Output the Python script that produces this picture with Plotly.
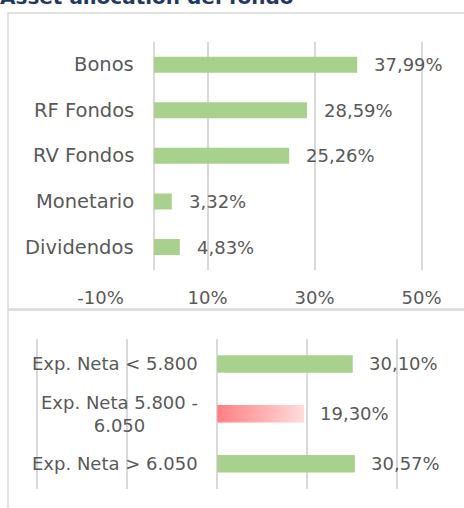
import plotly.graph_objects as go

# ---- data ----
title_text = "Asset allocation del fondo"

top_categories = ["Bonos", "RF Fondos", "RV Fondos", "Monetario", "Dividendos"]
top_values = [37.99, 28.59, 25.26, 3.32, 4.83]
top_tickvals = [-10, 10, 30, 50]
top_ticktext = ["-10%", "10%", "30%", "50%"]

bottom_categories = ["Exp. Neta < 5.800", "Exp. Neta 5.800 -<br>6.050", "Exp. Neta > 6.050"]
bottom_values = [30.10, 19.30, 30.57]
bottom_is_red = [False, True, False]

# ---- style ----
W, H = 464, 508
FONT = "DejaVu Sans"
TXT = "#595959"
GRID = "#d9d9d9"
GREEN = "#a9d18e"
BAR_W = 0.35


def px_x(p):
    return p / W


def px_y(p):
    return 1 - p / H


def fmt(v):
    return f"{v:.2f}".replace(".", ",") + "%"


fig = go.Figure()

# top chart bars
fig.add_trace(go.Bar(
    x=top_values, y=top_categories, orientation="h",
    marker=dict(color=GREEN, line=dict(width=0)),
    width=BAR_W, xaxis="x", yaxis="y", hoverinfo="skip", showlegend=False,
))

# bottom chart bars (numeric positions for categories)
bottom_pos = list(range(len(bottom_categories)))
green_x = [v if not r else None for v, r in zip(bottom_values, bottom_is_red)]
fig.add_trace(go.Bar(
    x=green_x, y=bottom_pos, orientation="h",
    marker=dict(color=GREEN, line=dict(width=0)),
    width=BAR_W, xaxis="x2", yaxis="y2", hoverinfo="skip", showlegend=False,
))
for v, p, r in zip(bottom_values, bottom_pos, bottom_is_red):
    if r:
        fig.add_trace(go.Scatter(
            x=[0, v, v, 0, 0],
            y=[p - BAR_W / 2, p - BAR_W / 2, p + BAR_W / 2, p + BAR_W / 2, p - BAR_W / 2],
            mode="lines", line=dict(width=0), fill="toself",
            fillgradient=dict(type="horizontal",
                              colorscale=[[0, "#ff7f82"], [1, "#ffdcdc"]]),
            xaxis="x2", yaxis="y2", hoverinfo="skip", showlegend=False,
        ))

annotations = []
# title (partly cut at the top)
annotations.append(dict(
    text=title_text, xref="paper", yref="paper", x=0, y=1, xshift=-2, yshift=3,
    xanchor="left", yanchor="middle", showarrow=False,
    font=dict(family=FONT, size=20, color="#1f3864", weight="bold"),
))
# top category labels
for c in top_categories:
    annotations.append(dict(
        text=c, xref="paper", yref="y", x=px_x(136), y=c,
        xanchor="right", yanchor="middle", showarrow=False,
        font=dict(family=FONT, size=19.5, color=TXT),
    ))
# top data labels
for c, v in zip(top_categories, top_values):
    annotations.append(dict(
        text=fmt(v), xref="x", yref="y", x=v, y=c, xshift=15,
        xanchor="left", yanchor="middle", showarrow=False,
        font=dict(family=FONT, size=18, color=TXT),
    ))
# bottom category labels
for c, p in zip(bottom_categories, bottom_pos):
    annotations.append(dict(
        text=c, xref="paper", yref="y2", x=px_x(200), y=p,
        xanchor="right", yanchor="middle", align="center", showarrow=False,
        font=dict(family=FONT, size=18, color=TXT),
    ))
# bottom data labels
for v, p in zip(bottom_values, bottom_pos):
    annotations.append(dict(
        text=fmt(v), xref="x2", yref="y2", x=v, y=p, xshift=14,
        xanchor="left", yanchor="middle", showarrow=False,
        font=dict(family=FONT, size=18, color=TXT),
    ))

shapes = [
    dict(type="rect", xref="paper", yref="paper",
         x0=px_x(8), x1=1.05, y0=px_y(309), y1=px_y(13),
         line=dict(color=GRID, width=1.5), fillcolor="rgba(0,0,0,0)", layer="below"),
    dict(type="rect", xref="paper", yref="paper",
         x0=px_x(8), x1=1.05, y0=-0.05, y1=px_y(310),
         line=dict(color=GRID, width=1.5), fillcolor="rgba(0,0,0,0)", layer="below"),
]

fig.update_layout(
    width=W, height=H, autosize=False,
    margin=dict(l=0, r=0, t=0, b=0, pad=0, autoexpand=False),
    paper_bgcolor="white", plot_bgcolor="white",
    font=dict(family=FONT, size=18, color=TXT),
    bargap=0.65,
    barmode="overlay",
    annotations=annotations,
    shapes=shapes,
    xaxis=dict(
        domain=[px_x(100.5), px_x(424.2)], range=[-10, 50.5],
        tickvals=top_tickvals, ticktext=top_ticktext,
        showgrid=True, gridcolor=GRID, gridwidth=1.5,
        zeroline=True, zerolinecolor=GRID, zerolinewidth=1.5,
        showline=False, ticks="", ticklabelstandoff=15,
        tickfont=dict(family=FONT, size=18, color=TXT),
        anchor="y", fixedrange=True, automargin=False,
    ),
    yaxis=dict(
        domain=[px_y(269.8), px_y(41.9)],
        type="category", autorange="reversed",
        showticklabels=False, showgrid=False, zeroline=False, showline=False,
        anchor="x", fixedrange=True, automargin=False,
    ),
    xaxis2=dict(
        domain=[px_x(35.05), px_x(399.55)], range=[-40.5, 40.5],
        dtick=20, tick0=0, showticklabels=False,
        showgrid=True, gridcolor=GRID, gridwidth=1.5,
        zeroline=True, zerolinecolor=GRID, zerolinewidth=2,
        showline=False, ticks="", anchor="y2", fixedrange=True, automargin=False,
    ),
    yaxis2=dict(
        domain=[px_y(488.7), px_y(339)],
        range=[len(bottom_categories) - 0.5, -0.5],
        showticklabels=False, showgrid=False, zeroline=False, showline=False,
        anchor="x2", fixedrange=True, automargin=False,
    ),
)

fig.write_html(
    "out.html",
    config={"displayModeBar": False},
    post_script="document.body.style.margin='0';document.body.style.overflow='hidden';",
)
